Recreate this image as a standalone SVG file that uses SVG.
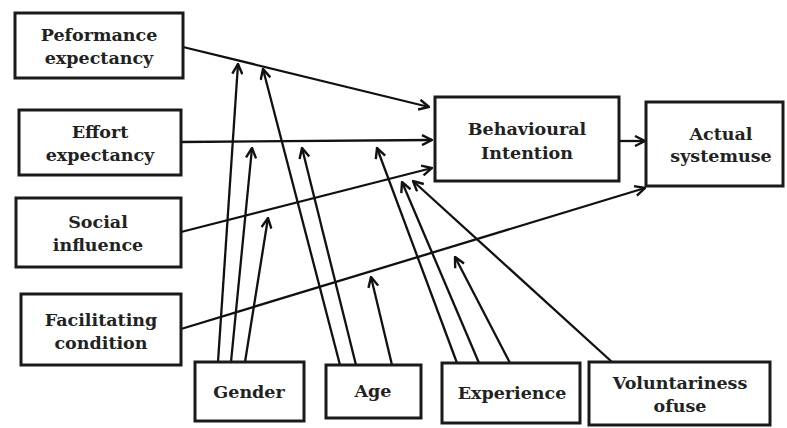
<svg xmlns="http://www.w3.org/2000/svg" width="787" height="428" viewBox="0 0 787 428">
  <style>
    .box { fill: #ffffff; stroke: #1a1a1a; stroke-width: 3; }
    .lbl { font-family: "DejaVu Serif", "Liberation Serif", serif; font-weight: bold; font-size: 17.5px; fill: #222222; text-anchor: middle; }
    .edge { stroke: #111111; stroke-width: 2.3; fill: none; marker-end: url(#arrow); }
  </style>
  <defs>
    <marker id="arrow" viewBox="0 0 12 12" refX="11" refY="6" markerWidth="12" markerHeight="12" markerUnits="userSpaceOnUse" orient="auto">
      <path d="M1,1 L11,6 L1,11" fill="none" stroke="#111111" stroke-width="2.4" stroke-linejoin="miter"/>
    </marker>
  </defs>

  <rect width="787" height="428" fill="#ffffff"/>

  <!-- connectors -->
  <g id="connectors">
    <!-- determinants to intention / use -->
    <line class="edge" x1="183" y1="47" x2="429" y2="107"/>
    <line class="edge" x1="181" y1="142" x2="432" y2="140"/>
    <line class="edge" x1="181" y1="232" x2="432" y2="168"/>
    <line class="edge" x1="181" y1="329" x2="645" y2="188"/>
    <line class="edge" x1="619" y1="141" x2="645" y2="141"/>
    <!-- gender moderators -->
    <line class="edge" x1="218" y1="362" x2="238" y2="64"/>
    <line class="edge" x1="231" y1="362" x2="252" y2="148"/>
    <line class="edge" x1="245" y1="362" x2="268" y2="218"/>
    <!-- age moderators -->
    <line class="edge" x1="340" y1="365" x2="263" y2="69"/>
    <line class="edge" x1="356" y1="365" x2="302" y2="148"/>
    <line class="edge" x1="392" y1="365" x2="371" y2="277"/>
    <!-- experience moderators -->
    <line class="edge" x1="457" y1="363" x2="377" y2="148"/>
    <line class="edge" x1="479" y1="363" x2="402" y2="182"/>
    <line class="edge" x1="510" y1="363" x2="455" y2="257"/>
    <!-- voluntariness moderator -->
    <line class="edge" x1="612" y1="362" x2="413" y2="181"/>
  </g>

  <g id="performance-expectancy">
    <rect class="box" x="15" y="13" width="168" height="65"/>
    <text class="lbl" x="99" y="41">Peformance</text>
    <text class="lbl" x="99" y="64">expectancy</text>
  </g>
  <g id="effort-expectancy">
    <rect class="box" x="19" y="110" width="162" height="65"/>
    <text class="lbl" x="100" y="138">Effort</text>
    <text class="lbl" x="100" y="161">expectancy</text>
  </g>
  <g id="social-influence">
    <rect class="box" x="16" y="198" width="165" height="69"/>
    <text class="lbl" x="98" y="228">Social</text>
    <text class="lbl" x="98" y="251">influence</text>
  </g>
  <g id="facilitating-condition">
    <rect class="box" x="21" y="294" width="160" height="71"/>
    <text class="lbl" x="101" y="326">Facilitating</text>
    <text class="lbl" x="101" y="349">condition</text>
  </g>
  <g id="behavioural-intention">
    <rect class="box" x="435" y="97" width="184" height="84"/>
    <text class="lbl" x="527" y="135">Behavioural</text>
    <text class="lbl" x="527" y="159">Intention</text>
  </g>
  <g id="actual-system-use">
    <rect class="box" x="646" y="102" width="137" height="84"/>
    <text class="lbl" x="721" y="140">Actual</text>
    <text class="lbl" x="721" y="162">systemuse</text>
  </g>
  <g id="gender">
    <rect class="box" x="195" y="362" width="109" height="59"/>
    <text class="lbl" x="249" y="398">Gender</text>
  </g>
  <g id="age">
    <rect class="box" x="326" y="365" width="95" height="53"/>
    <text class="lbl" x="373" y="397">Age</text>
  </g>
  <g id="experience">
    <rect class="box" x="442" y="363" width="138" height="60"/>
    <text class="lbl" x="512" y="399">Experience</text>
  </g>
  <g id="voluntariness-of-use">
    <rect class="box" x="589" y="362" width="181" height="63"/>
    <text class="lbl" x="680" y="389">Voluntariness</text>
    <text class="lbl" x="680" y="412">ofuse</text>
  </g>
</svg>
